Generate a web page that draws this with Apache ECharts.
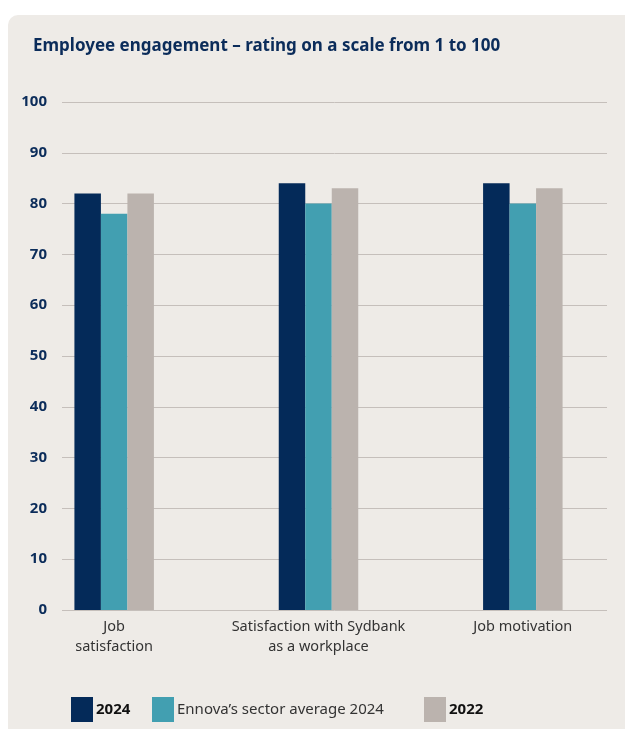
<!DOCTYPE html>
<html><head><meta charset="utf-8">
<script src="https://cdn.jsdelivr.net/npm/echarts@6/dist/echarts.min.js"></script>
<style>html,body{margin:0;padding:0;background:#fff}#c{width:625px;height:729px}</style>
</head><body><div id="c"></div>
<script>
const categories = ['Job\nsatisfaction', 'Satisfaction with Sydbank\nas a workplace', 'Job motivation'];
const s2024 = [82, 84, 84];
const sEnnova = [78, 80, 80];
const s2022 = [82, 83, 83];
const seriesNames = ['2024', "Ennova’s sector average 2024", '2022'];
const yTicks = [0, 10, 20, 30, 40, 50, 60, 70, 80, 90, 100];

const navy = '#042a59', teal = '#429fb1', gray = '#bbb3ae', bg = '#eeebe7';
const chart = echarts.init(document.getElementById('c'));
const fam = 'Noto Sans';
function leg(name, left, bold) {
  return {
    data: [name], left: left, top: 697, itemWidth: 22, itemHeight: 25, itemGap: 0,
    icon: 'rect', padding: 0,
    textStyle: { fontFamily: fam, fontSize: 15, color: bold ? '#111' : '#333', fontWeight: bold ? 'bold' : 'normal', padding: [0, 0, 0, -2] }
  };
}
chart.setOption({
  backgroundColor: '#ffffff',
  animation: false,
  graphic: [{ type: 'rect', z: -10, silent: true, shape: { x: 8, y: 15, width: 640, height: 740, r: 10 }, style: { fill: bg } }],
  title: {
    text: 'Employee engagement – rating on a scale from 1 to 100',
    left: 28, top: 33,
    textStyle: { fontFamily: fam, fontSize: 17, fontWeight: 'bold', color: '#0b2c5a' }
  },
  legend: [leg(seriesNames[0], 71, true), leg(seriesNames[1], 152, false), leg(seriesNames[2], 424, true)],
  grid: [
    { left: 62, right: 18, top: 102, bottom: 119 },
    { left: 12, right: 0, top: 102, bottom: 119 }
  ],
  xAxis: [
    { gridIndex: 0, type: 'value', min: 0, max: 1, show: false },
    {
      gridIndex: 1, type: 'category', data: categories,
      axisLine: { show: false }, axisTick: { show: false },
      axisLabel: { interval: 0, hideOverlap: false, fontFamily: fam, fontSize: 14.5, color: '#333', margin: 7, lineHeight: 20 }
    }
  ],
  yAxis: [
    {
      gridIndex: 0, type: 'value', min: yTicks[0], max: yTicks[yTicks.length - 1], interval: 10,
      axisLine: { show: false }, axisTick: { show: false },
      splitLine: { lineStyle: { color: '#c5bfbb', width: 1 } },
      axisLabel: { fontFamily: fam, fontSize: 15, fontWeight: 'bold', color: '#0b2c5a', margin: 15 }
    },
    { gridIndex: 1, type: 'value', min: 0, max: 100, show: false }
  ],
  series: [
    { name: seriesNames[0], type: 'bar', xAxisIndex: 1, yAxisIndex: 1, data: s2024, barWidth: 26.5, barGap: '0%', itemStyle: { color: navy } },
    { name: seriesNames[1], type: 'bar', xAxisIndex: 1, yAxisIndex: 1, data: sEnnova, barWidth: 26.5, barGap: '0%', itemStyle: { color: teal } },
    { name: seriesNames[2], type: 'bar', xAxisIndex: 1, yAxisIndex: 1, data: s2022, barWidth: 26.5, barGap: '0%', itemStyle: { color: gray } }
  ]
});
</script></body></html>
